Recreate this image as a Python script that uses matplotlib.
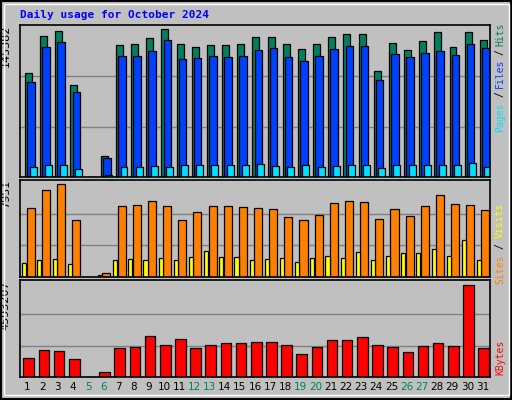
import matplotlib as mpl
mpl.use('Agg')
import matplotlib.pyplot as plt
from matplotlib.patches import Rectangle
import numpy

days = numpy.arange(1, 32)
weekend = [5, 6, 12, 13, 19, 20, 26, 27]

hits = [102100, 138500, 143400, 90300, 0, 20600, 129600, 130600, 136500, 145382,
        130600, 127700, 129600, 129600, 130600, 137500, 137500, 130600, 125700, 130600,
        137500, 140400, 140400, 104100, 131600, 124700, 133600, 142400, 127700, 142400, 134500]
files = [93300, 127700, 132600, 83500, 0, 18700, 118800, 118800, 123700, 134500,
         115900, 116900, 118800, 117800, 118800, 124700, 126700, 117800, 113900, 118800,
         125700, 128600, 128600, 95300, 120800, 117800, 121800, 123700, 119800, 130600, 126700]
pages = [10300, 12200, 12200, 7900, 0, 1500, 10300, 9800, 10800, 9800,
         11300, 11300, 12200, 11800, 11300, 12700, 10800, 9800, 11300, 9800,
         10800, 12200, 12200, 9300, 11300, 11800, 12200, 11800, 11300, 13300, 10300]

visits = [5900, 7440, 7951, 4870, 0, 340, 6070, 6160, 6500, 6070,
          4870, 5560, 6070, 6070, 5990, 5900, 5810, 5130, 4870, 5300,
          6330, 6500, 6410, 4960, 5810, 5220, 6070, 7010, 6240, 6160, 5730]
sites = [1200, 1450, 1540, 1110, 0, 170, 1450, 1540, 1450, 1620,
         1450, 1710, 2220, 1710, 1710, 1450, 1540, 1620, 1280, 1620,
         1800, 1620, 2140, 1450, 1800, 2050, 2050, 2390, 1800, 3160, 1450]

kbytes = [948600, 1348000, 1298100, 898700, 0, 249600, 1447900, 1497800, 2047000, 1597600,
          1897200, 1447900, 1597600, 1697500, 1697500, 1747400, 1747400, 1597600, 1148300, 1497800,
          1847300, 1847300, 1997000, 1597600, 1497800, 1248200, 1547700, 1697500, 1547700, 4593207, 1447900]

BG = '#c0c0c0'
fig = plt.figure(figsize=[5.12, 4.0], dpi=100)
fig.patch.set_facecolor(BG)
fig.patches.append(Rectangle((0.002, 0.002), 0.996, 0.996, transform=fig.transFigure,
                             fill=False, edgecolor='black', linewidth=1.5))
fig.patches.append(Rectangle((0.008, 0.012), 0.986, 0.978, transform=fig.transFigure,
                             fill=False, edgecolor='white', linewidth=1))

fig.text(20/512, 1-15/400, 'Daily usage for October 2024', color='#0000ff',
         family='DejaVu Sans Mono', fontsize=8, weight='bold', va='center')

L, W = 20/512, 470/512
axes = []
for top, bot in [(25, 177), (180, 277), (280, 377)]:
    ax = fig.add_axes([L, 1-bot/400, W, (bot-top)/400])
    ax.set_facecolor(BG)
    ax.set_xlim(0.5, 31.5)
    ax.set_xticks([])
    ax.set_yticks([])
    for s in ax.spines.values():
        s.set_linewidth(1.2)
    axes.append(ax)
ax1, ax2, ax3 = axes

def panel(ax, vmax, frac, label):
    ax.set_ylim(0, vmax*frac)
    for g in (0.34, 0.68):
        ax.axhline(vmax*g, color='#808080', linewidth=1, zorder=0)
    ax.text(-0.03, 1.0, label, transform=ax.transAxes, rotation=90,
            ha='center', va='top', fontsize=8)

panel(ax1, max(hits), 152/148, '145382')
kw = dict(edgecolor='black', linewidth=0.9)
ax1.bar(days+0.06, hits, 0.46, color='#008060', **kw)
ax1.bar(days+0.22, files, 0.5, color='#0040ff', **kw)
ax1.bar(days+0.36, pages, 0.46, color='#00e0ff', **kw)

panel(ax2, max(visits), 97/93, '7951')
ax2.bar(days+0.2, visits, 0.53, color='#ff8000', **kw)
ax2.bar(days-0.22, sites, 0.27, color='#ffff00', **kw)

panel(ax3, max(kbytes), 97/92, '4593207')
ax3.bar(days+0.08, kbytes, 0.7, color='#ff0000', **kw)

for d in days:
    ax3.text(d, -0.1, str(d), transform=ax3.get_xaxis_transform(), ha='center',
             va='center', fontsize=7.5,
             color='#008060' if d in weekend else 'black')

def side(parts, y0):
    # parts listed bottom -> top, each (text, colour, height px)
    y = y0
    for txt, col, h in parts:
        fig.text(500/512, 1-(y-h/2)/400, txt, color=col, rotation=90, ha='center',
                 va='center', family='DejaVu Sans Mono', fontsize=7)
        y -= h

side([('Pages', '#00e0ff', 37), ('/', 'black', 9), ('Files', '#0040ff', 33),
      ('/', 'black', 9), ('Hits', '#008060', 28)], 136)
side([('Sites', '#ff8000', 37), ('/', 'black', 9), ('Visits', '#ffff00', 44)], 288)
side([('KBytes', '#ff0000', 42)], 378)

plt.savefig('out.png', dpi=100, facecolor=BG)
